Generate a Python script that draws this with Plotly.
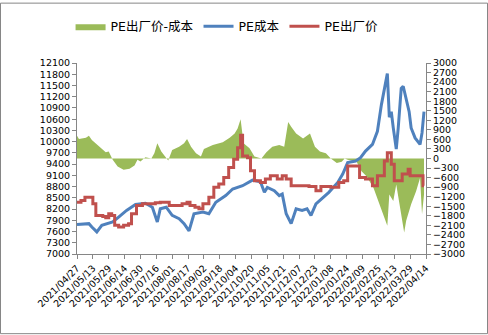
import plotly.graph_objects as go

# ---------------- data ----------------
cost_dates = ["2021-04-27","2021-05-03","2021-05-09","2021-05-12","2021-05-17","2021-05-22","2021-06-02","2021-06-08",
              "2021-06-16","2021-06-25","2021-07-05","2021-07-12","2021-07-17","2021-07-20","2021-07-26","2021-08-01",
              "2021-08-08","2021-08-13","2021-08-18","2021-08-23","2021-09-01","2021-09-07","2021-09-14","2021-09-24",
              "2021-10-01","2021-10-11","2021-10-21","2021-10-29","2021-11-02","2021-11-05","2021-11-12","2021-11-17",
              "2021-11-20","2021-11-24","2021-11-29","2021-12-04","2021-12-10","2021-12-15","2021-12-19","2021-12-24",
              "2021-12-31","2022-01-06","2022-01-15","2022-01-20","2022-01-25","2022-02-02","2022-02-07","2022-02-12",
              "2022-02-19","2022-02-24","2022-02-28","2022-03-03","2022-03-06","2022-03-08","2022-03-10","2022-03-12",
              "2022-03-15","2022-03-17","2022-03-20","2022-03-22","2022-03-25","2022-03-28","2022-03-30","2022-04-03",
              "2022-04-08","2022-04-10","2022-04-12"]
cost_values = [7785,7800,7811,7722,7590,7766,7855,7987,
               8163,8321,8356,8250,7855,8207,8250,8030,
               7943,7811,7616,8075,8118,8075,8382,8559,
               8735,8823,8973,8930,8647,8779,8691,8559,
               8600,8075,7811,8207,8163,8207,8030,8340,
               8515,8647,8911,9133,9441,9484,9572,9748,
               9925,10277,10982,11380,11818,10650,10800,10366,
               9800,10366,11421,11480,11159,10800,10366,10100,
               9925,10233,10800]

price_dates = ["2021-04-27","2021-05-01","2021-05-05","2021-05-13","2021-05-16","2021-05-23","2021-05-26","2021-05-29",
               "2021-06-01","2021-06-04","2021-06-08","2021-06-13","2021-06-18","2021-06-21","2021-06-26","2021-07-02",
               "2021-07-15","2021-07-20","2021-07-29","2021-08-11","2021-08-16","2021-08-19","2021-08-24","2021-08-28",
               "2021-09-01","2021-09-07","2021-09-12","2021-09-17","2021-09-22","2021-09-27","2021-10-02","2021-10-06",
               "2021-10-09","2021-10-11","2021-10-16","2021-10-19","2021-10-23","2021-10-29","2021-11-03","2021-11-08",
               "2021-11-15","2021-11-20","2021-11-24","2021-11-29","2021-12-17","2021-12-24","2021-12-29","2022-01-08",
               "2022-01-16","2022-01-21","2022-01-25","2022-02-06","2022-02-12","2022-02-19","2022-02-24","2022-03-03",
               "2022-03-06","2022-03-10","2022-03-13","2022-03-21","2022-03-27","2022-03-29","2022-04-11","2022-04-12"]
price_values = [8380,8430,8515,8340,8030,8000,7970,8075,
                8030,7766,7722,7766,7811,8075,8295,8340,
                8370,8382,8295,8340,8382,8295,8250,8207,
                8340,8515,8779,8868,9043,9307,9528,9836,
                10171,9616,9572,9220,8956,8911,9000,9088,
                9000,9088,9000,8823,8800,8691,8800,8779,
                8911,8956,9352,9043,9000,8823,9088,9484,
                9704,9396,8956,9133,9260,9088,8823,8823]

spread_dates = ["2021-04-27","2021-04-29","2021-05-06","2021-05-09","2021-05-12","2021-05-16","2021-05-21","2021-05-26",
                "2021-05-29","2021-06-02","2021-06-07","2021-06-13","2021-06-19","2021-06-24","2021-06-27","2021-06-30",
                "2021-07-05","2021-07-11","2021-07-14","2021-07-17","2021-07-21","2021-07-26","2021-07-28","2021-08-01",
                "2021-08-08","2021-08-13","2021-08-16","2021-08-20","2021-08-25","2021-08-30","2021-09-02","2021-09-11",
                "2021-09-21","2021-09-28","2021-10-03","2021-10-06","2021-10-09","2021-10-12","2021-10-18","2021-10-23",
                "2021-10-30","2021-11-04","2021-11-10","2021-11-17","2021-11-22","2021-11-26","2021-11-29","2021-12-04",
                "2021-12-11","2021-12-18","2021-12-23","2021-12-28","2022-01-03","2022-01-08","2022-01-14","2022-01-19",
                "2022-01-22","2022-01-25","2022-02-03","2022-02-08","2022-02-13","2022-02-20","2022-02-25","2022-03-02",
                "2022-03-06","2022-03-08","2022-03-12","2022-03-15","2022-03-19","2022-03-23","2022-03-25","2022-03-30",
                "2022-04-04","2022-04-08","2022-04-10","2022-04-12"]
spread_values = [715,611,653,715,580,477,321,197,
                 218,-41,-249,-352,-321,-218,-41,-93,
                 41,0,166,477,218,0,-60,270,
                 373,477,611,373,166,62,301,425,
                 507,653,788,943,1233,477,321,62,
                 0,200,373,425,373,1150,995,788,
                 632,788,373,218,166,0,-145,-104,
                 0,-41,-100,-404,-559,-922,-1337,-1751,
                 -2114,-1130,-1337,-818,-1544,-2321,-1958,-1440,
                 -1026,-612,-1751,-1130]

tick_dates = ["2021-04-27","2021-05-13","2021-05-29","2021-06-14","2021-06-30","2021-07-16","2021-08-01","2021-08-17",
              "2021-09-02","2021-09-18","2021-10-04","2021-10-20","2021-11-05","2021-11-21","2021-12-07","2021-12-23",
              "2022-01-08","2022-01-24","2022-02-09","2022-02-25","2022-03-13","2022-03-29","2022-04-14"]
tick_labels = [d.replace("-", "/") for d in tick_dates]

# ---------------- figure ----------------
GREEN = "#9BBB59"
BLUE = "#4F81BD"
RED = "#C0504D"
AXIS = "#868686"
FONT = "DejaVu Sans, Noto Sans CJK SC, sans-serif"
TICK = dict(family=FONT, size=9.5, color="#000000")

fig = go.Figure()
fig.add_trace(go.Scatter(x=spread_dates, y=spread_values, name="PE出厂价-成本", mode="lines",
                         line=dict(color=GREEN, width=0), fill="tozeroy", fillcolor=GREEN, yaxis="y"))
fig.add_trace(go.Scatter(x=cost_dates, y=cost_values, name="PE成本", mode="lines",
                         line=dict(color=BLUE, width=3), yaxis="y2"))
fig.add_trace(go.Scatter(x=price_dates, y=price_values, name="PE出厂价", mode="lines",
                         line=dict(color=RED, width=3, shape="hv"), yaxis="y2"))

L, R, T, B = 77, 62, 61, 81
W, H = 488, 335
pw, ph = W - L - R, H - T - B

fig.update_layout(
    width=W, height=H,
    margin=dict(l=L, r=R, t=T, b=B),
    paper_bgcolor="white", plot_bgcolor="white",
    font=dict(family=FONT, size=9.5, color="#000000"),
    showlegend=True,
    legend=dict(orientation="h", x=0.43, xanchor="center", y=1 + (T - 9) / ph, yanchor="top",
                font=dict(family=FONT, size=12.5, color="#000000"), itemwidth=30,
                traceorder="normal", tracegroupgap=0),
    xaxis=dict(type="date", range=["2021-04-27", "2022-04-14"], tickmode="array",
               tickvals=tick_dates, ticktext=tick_labels, tickangle=-45,
               showgrid=False, zeroline=False, showline=True, linecolor=AXIS, linewidth=1,
               ticks="outside", ticklen=4, tickcolor=AXIS, tickfont=TICK),
    yaxis=dict(side="right", range=[-3000, 3000], tickmode="linear", tick0=-3000, dtick=300,
               tickformat="d",
               showgrid=False, zeroline=False, showline=True, linecolor=AXIS, linewidth=1,
               ticks="outside", ticklen=4, tickcolor=AXIS, tickfont=TICK),
    yaxis2=dict(side="left", overlaying="y", range=[7000, 12100], tickmode="linear", tick0=7000, dtick=300,
                tickformat="d",
                showgrid=False, zeroline=False, showline=True, linecolor=AXIS, linewidth=1,
                ticks="outside", ticklen=4, tickcolor=AXIS, tickfont=TICK),
    shapes=[dict(type="rect", xref="paper", yref="paper",
                 x0=-(L - 0.5) / pw, x1=1 + (R - 0.5) / pw,
                 y0=-(B - 0.5) / ph, y1=1 + (T - 0.5) / ph,
                 line=dict(color=AXIS, width=1), fillcolor="rgba(0,0,0,0)", layer="below")],
)

fig.write_html("out.html")
